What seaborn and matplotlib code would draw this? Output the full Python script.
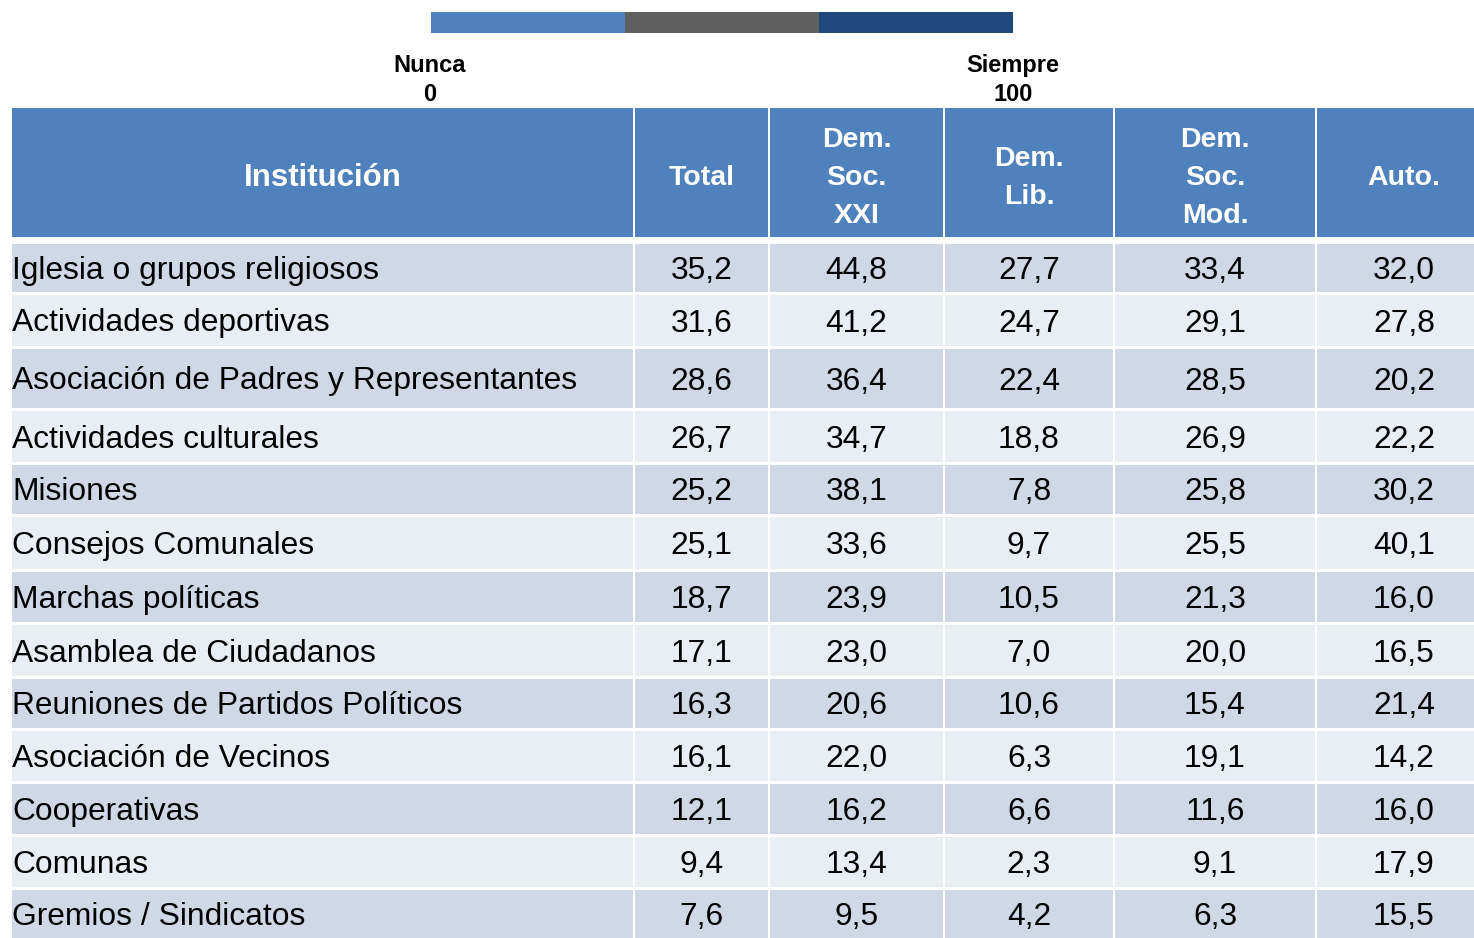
import seaborn as sns
import matplotlib.pyplot as plt
from matplotlib.colors import ListedColormap

sns.set_theme(style="white")
plt.rcParams['font.family'] = ['Liberation Sans', 'DejaVu Sans']

# table data
instituciones = ["Iglesia o grupos religiosos", "Actividades deportivas",
                 "Asociación de Padres y Representantes", "Actividades culturales",
                 "Misiones", "Consejos Comunales", "Marchas políticas",
                 "Asamblea de Ciudadanos", "Reuniones de Partidos Políticos",
                 "Asociación de Vecinos", "Cooperativas", "Comunas",
                 "Gremios / Sindicatos"]
columnas = ["Institución", "Total", "Dem.\nSoc.\nXXI", "Dem.\nLib.", "Dem.\nSoc.\nMod.", "Auto."]
total = [35.2, 31.6, 28.6, 26.7, 25.2, 25.1, 18.7, 17.1, 16.3, 16.1, 12.1, 9.4, 7.6]
dem_soc_xxi = [44.8, 41.2, 36.4, 34.7, 38.1, 33.6, 23.9, 23.0, 20.6, 22.0, 16.2, 13.4, 9.5]
dem_lib = [27.7, 24.7, 22.4, 18.8, 7.8, 9.7, 10.5, 7.0, 10.6, 6.3, 6.6, 2.3, 4.2]
dem_soc_mod = [33.4, 29.1, 28.5, 26.9, 25.8, 25.5, 21.3, 20.0, 15.4, 19.1, 11.6, 9.1, 6.3]
auto = [32.0, 27.8, 20.2, 22.2, 30.2, 40.1, 16.0, 16.5, 21.4, 14.2, 16.0, 17.9, 15.5]
escala = ["Nunca\n0", "Siempre\n100"]

valores = [total, dem_soc_xxi, dem_lib, dem_soc_mod, auto]

fig = plt.figure(figsize=(14.74, 9.38), dpi=100)
ax = fig.add_axes([0, 0, 1, 1])
ax.set_xlim(0, 1474)
ax.set_ylim(938, 0)
ax.axis("off")

# column and row geometry in pixels (last column runs past the right edge)
col_left = [12, 635, 770, 945, 1115, 1317]
col_right = [633, 768, 943, 1113, 1315, 1491]
row_top = [244, 295, 349, 411, 465, 517, 572, 625, 679, 731, 784, 837, 890]
row_bot = [292, 346, 408, 462, 514, 569, 622, 676, 728, 781, 834, 887, 938]
centers = [(t + b) / 2 for t, b in zip(row_top, row_bot)]
heights = [b - t for t, b in zip(row_top, row_bot)]
stripes = ["#D0D8E8" if i % 2 == 0 else "#E9EDF4" for i in range(len(instituciones))]

header_blue = "#4F81BD"
for j, (l, r) in enumerate(zip(col_left, col_right)):
    # header cell
    ax.barh(172.5, r - l, left=l, height=129, color=header_blue, linewidth=0)
    size = 22.5 if j == 0 else 20.5
    ax.text((l + r) / 2, 178, columnas[j], ha="center", va="center", color="white",
            fontsize=size, fontweight="bold", linespacing=1.6)
    # body cells
    ax.barh(centers, r - l, left=l, height=heights, color=stripes, linewidth=0)

for i, name in enumerate(instituciones):
    ax.text(12, centers[i] + 3, name, ha="left", va="center", fontsize=22.9, color="black")
    for j, serie in enumerate(valores):
        l, r = col_left[j + 1], col_right[j + 1]
        ax.text((l + r) / 2, centers[i] + 3, f"{serie[i]:.1f}".replace(".", ","),
                ha="center", va="center", fontsize=22.9, color="black")

# scale legend
ax.text(430, 80, escala[0], ha="center", va="center", fontsize=17, fontweight="bold",
        linespacing=1.3, color="black")
ax.text(1013, 80, escala[1], ha="center", va="center", fontsize=17, fontweight="bold",
        linespacing=1.3, color="black")

lax = fig.add_axes([431 / 1474, 1 - 33 / 938, 582 / 1474, 21 / 938])
sns.heatmap([[0, 1, 2]], cmap=ListedColormap(["#4F81BD", "#5F5F5F", "#1F497D"]),
            cbar=False, xticklabels=False, yticklabels=False, ax=lax)

fig.savefig("out.png", dpi=100)
